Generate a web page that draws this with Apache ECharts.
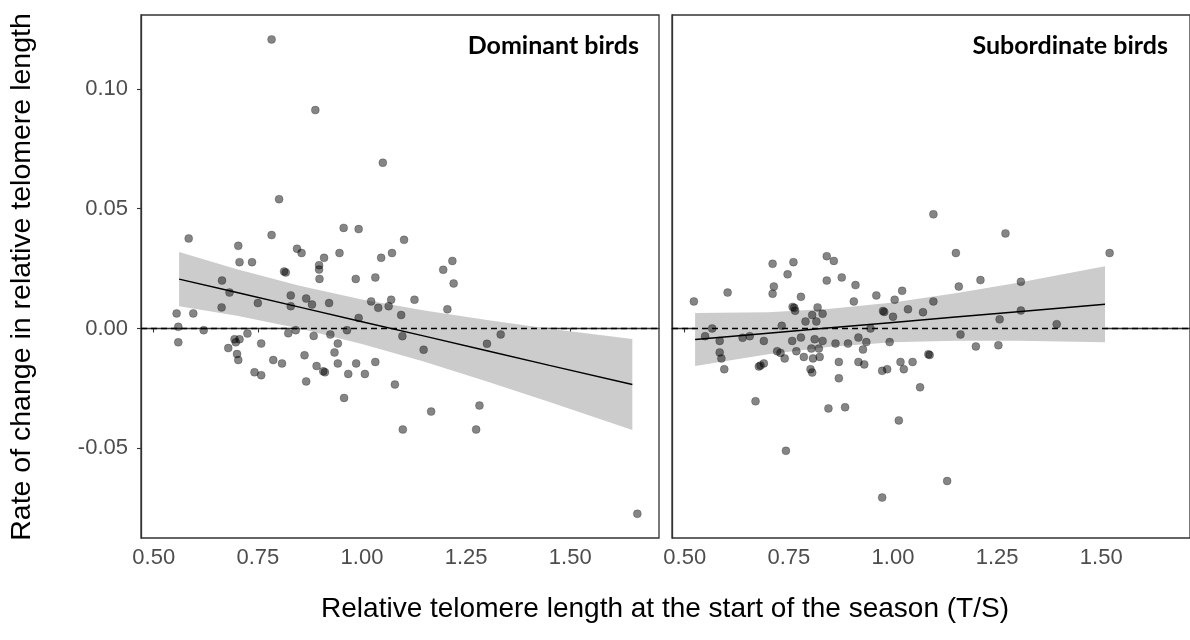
<!DOCTYPE html>
<html><head><meta charset="utf-8">
<script src="https://cdn.jsdelivr.net/npm/echarts@6/dist/echarts.min.js"></script>
<style>html,body{margin:0;padding:0;background:#fff}#c{width:1190px;height:640px}</style>
</head><body><div id="c"></div>
<script>
// ---- Data ----
const panelTitles = ['Dominant birds', 'Subordinate birds'];
const xTicks = [0.5, 0.75, 1.0, 1.25, 1.5];
const yTicks = [-0.05, 0.0, 0.05, 0.10];
const refLineY = 0;

const domX = [0.783,0.888,1.050,0.801,0.584,0.783,0.956,0.992,0.703,0.844,0.855,0.909,0.946,0.706,0.736,0.897,0.897,0.813,0.817,0.898,
  0.985,1.032,1.046,1.072,0.664,0.682,0.750,0.829,0.866,0.829,0.880,0.921,0.663,1.022,1.039,1.064,1.070,1.094,0.992,0.555,
  0.595,0.559,0.559,0.620,0.725,0.694,0.697,0.706,0.679,0.758,0.823,0.841,0.884,0.924,0.964,0.942,0.934,0.700,0.862,1.097,
  0.703,0.787,0.808,0.742,0.758,0.891,0.907,0.911,0.942,0.986,1.032,0.967,1.007,0.866,0.957,1.079,1.101,1.217,1.195,1.220,
  1.126,1.205,1.333,1.300,1.148,1.166,1.282,1.098,1.274,1.661];
const domY = [0.1207,0.0912,0.0692,0.0540,0.0376,0.0390,0.0420,0.0415,0.0345,0.0333,0.0315,0.0295,0.0315,0.0277,0.0277,0.0264,0.0246,0.0238,0.0234,0.0207,
  0.0207,0.0213,0.0295,0.0315,0.0200,0.0150,0.0106,0.0138,0.0125,0.0093,0.0100,0.0106,0.0088,0.0113,0.0086,0.0093,0.0120,0.0056,0.0044,0.0063,
  0.0063,0.0007,-0.0058,-0.0007,-0.0021,-0.0045,-0.0058,-0.0045,-0.0082,-0.0063,-0.0020,-0.0007,-0.0031,-0.0025,-0.0007,-0.0063,-0.0100,-0.0107,-0.0112,-0.0032,
  -0.0132,-0.0132,-0.0146,-0.0183,-0.0195,-0.0157,-0.0179,-0.0183,-0.0146,-0.0146,-0.0140,-0.0190,-0.0190,-0.0221,-0.0290,-0.0234,0.0370,0.0282,0.0245,0.0188,
  0.0120,0.0080,-0.0025,-0.0064,-0.0089,-0.0347,-0.0322,-0.0422,-0.0422,-0.0774];

const subX = [0.522,0.603,0.711,0.761,0.747,0.714,0.711,0.779,0.841,0.858,0.841,0.877,0.910,0.906,0.960,1.022,1.004,1.036,0.976,0.979,
  1.000,1.072,0.759,0.763,0.765,0.819,0.806,0.831,0.790,0.816,0.733,0.566,0.549,0.584,0.639,0.656,0.690,0.758,0.779,0.812,
  0.831,0.946,0.917,0.936,0.862,0.892,0.992,0.804,0.822,0.768,0.928,0.584,0.722,0.730,1.085,1.088,0.588,0.595,0.678,0.682,
  0.690,0.740,0.786,0.808,0.824,0.802,0.806,0.870,0.870,0.917,0.931,0.974,0.986,1.018,1.047,1.026,1.065,0.670,0.845,0.885,
  1.014,0.743,0.974,1.097,1.270,1.151,1.520,1.210,1.158,1.307,1.097,1.256,1.307,1.393,1.162,1.199,1.253,1.130];
const subY = [0.0113,0.0150,0.0270,0.0277,0.0226,0.0175,0.0145,0.0132,0.0302,0.0282,0.0200,0.0213,0.0181,0.0113,0.0138,0.0157,0.0120,0.0080,0.0073,0.0069,
  0.0049,0.0068,0.0090,0.0086,0.0074,0.0088,0.0056,0.0061,0.0029,0.0029,0.0011,0.0000,-0.0032,-0.0052,-0.0039,-0.0032,-0.0052,-0.0052,-0.0038,-0.0045,
  -0.0052,0.0000,-0.0038,-0.0057,-0.0063,-0.0063,-0.0057,-0.0084,-0.0084,-0.0095,-0.0088,-0.0100,-0.0095,-0.0102,-0.0108,-0.0111,-0.0125,-0.0170,-0.0159,-0.0155,
  -0.0146,-0.0125,-0.0119,-0.0125,-0.0119,-0.0170,-0.0184,-0.0140,-0.0208,-0.0140,-0.0150,-0.0177,-0.0170,-0.0140,-0.0140,-0.0170,-0.0246,-0.0304,-0.0334,-0.0329,
  -0.0384,-0.0511,-0.0706,0.0477,0.0397,0.0315,0.0315,0.0202,0.0175,0.0195,0.0113,0.0038,0.0075,0.0018,-0.0025,-0.0075,-0.0070,-0.0637];

// fitted line and confidence band
const domBandX = [0.561, 0.70, 0.85, 1.00, 1.15, 1.30, 1.45, 1.649];
const domFit   = [0.0206, 0.0150, 0.0089, 0.0028, -0.0032, -0.0093, -0.0154, -0.0234];
const domUpper = [0.0319, 0.0247, 0.0178, 0.0121, 0.0075, 0.0035, -0.0001, -0.0044];
const domLower = [0.0093, 0.0053, 0.0000, -0.0065, -0.0139, -0.0221, -0.0307, -0.0424];

const subBandX = [0.525, 0.70, 0.85, 1.00, 1.15, 1.30, 1.509];
const subFit   = [-0.0046, -0.0020, 0.0003, 0.0025, 0.0048, 0.0070, 0.0101];
const subUpper = [0.0065, 0.0068, 0.0082, 0.0108, 0.0147, 0.0191, 0.0260];
const subLower = [-0.0157, -0.0108, -0.0076, -0.0058, -0.0051, -0.0051, -0.0058];

// ---- Chart ----
const XMIN = 0.4695, XMAX = 1.713, YMIN = -0.0875, YMAX = 0.1309;
const FONT = '"Liberation Sans", Arial, sans-serif';
const BORDER = '#333333';

function zip(a, b) { return a.map((v, i) => [v, b[i]]); }

function xAxisDef(idx) {
  return {
    type: 'value', gridIndex: idx, min: XMIN, max: XMAX,
    axisLine: { show: true, lineStyle: { color: BORDER, width: 1.3 } },
    axisTick: { show: true, length: 4, customValues: xTicks, lineStyle: { color: BORDER, width: 1.1 } },
    axisLabel: { show: true, customValues: xTicks, margin: 9, color: '#4d4d4d', fontFamily: FONT, fontSize: 22,
      formatter: v => v.toFixed(2) },
    splitLine: { show: false }
  };
}
function yAxisDef(idx, labels) {
  return {
    type: 'value', gridIndex: idx, min: YMIN, max: YMAX,
    axisLine: { show: true, lineStyle: { color: BORDER, width: 1.3 } },
    axisTick: { show: labels, length: 4, customValues: yTicks, lineStyle: { color: BORDER, width: 1.1 } },
    axisLabel: { show: labels, customValues: yTicks, margin: 13, color: '#4d4d4d', fontFamily: FONT, fontSize: 22,
      formatter: v => v.toFixed(2) },
    splitLine: { show: false }
  };
}
function bandSeries(i, bx, up, lo) {
  return {
    type: 'custom', xAxisIndex: i, yAxisIndex: i, silent: true, z: 1,
    data: [[bx[0], up[0]]],
    renderItem: function (params, api) {
      const pts = [];
      for (let k = 0; k < bx.length; k++) pts.push(api.coord([bx[k], up[k]]));
      for (let k = bx.length - 1; k >= 0; k--) pts.push(api.coord([bx[k], lo[k]]));
      return { type: 'polygon', shape: { points: pts }, style: { fill: '#cccccc' } };
    }
  };
}
function pointSeries(i, xs, ys) {
  return {
    type: 'scatter', xAxisIndex: i, yAxisIndex: i, z: 3, symbolSize: 8,
    itemStyle: { color: 'rgba(0,0,0,0.6)', borderColor: 'rgba(0,0,0,0.35)', borderWidth: 0.8 },
    data: zip(xs, ys)
  };
}
function fitSeries(i, bx, fit) {
  return {
    type: 'line', xAxisIndex: i, yAxisIndex: i, z: 4, symbol: 'none', silent: true,
    lineStyle: { color: '#000', width: 1.4 },
    data: zip(bx, fit)
  };
}
function refSeries(i) {
  return {
    type: 'line', xAxisIndex: i, yAxisIndex: i, z: 5, symbol: 'none', silent: true,
    lineStyle: { color: '#000', width: 1.5, type: [6, 4] },
    data: [[XMIN, refLineY], [XMAX, refLineY]]
  };
}

const chart = echarts.init(document.getElementById('c'), null, { renderer: 'canvas' });
chart.setOption({
  animation: false,
  backgroundColor: '#ffffff',
  grid: [
    { left: 141, top: 15, width: 518, height: 523, show: true, borderColor: BORDER, borderWidth: 1.3, backgroundColor: 'transparent' },
    { left: 672, top: 15, width: 518, height: 523, show: true, borderColor: BORDER, borderWidth: 1.3, backgroundColor: 'transparent' }
  ],
  xAxis: [xAxisDef(0), xAxisDef(1)],
  yAxis: [yAxisDef(0, true), yAxisDef(1, false)],
  series: [
    bandSeries(0, domBandX, domUpper, domLower),
    pointSeries(0, domX, domY),
    fitSeries(0, domBandX, domFit),
    refSeries(0),
    bandSeries(1, subBandX, subUpper, subLower),
    pointSeries(1, subX, subY),
    fitSeries(1, subBandX, subFit),
    refSeries(1)
  ],
  graphic: [
    { type: 'text', x: 639, y: 46, z: 10, style: { text: panelTitles[0], font: 'bold 25px Lato, "Open Sans", sans-serif', fill: '#000', align: 'right', verticalAlign: 'middle' } },
    { type: 'text', x: 1168, y: 46, z: 10, style: { text: panelTitles[1], font: 'bold 25px Lato, "Open Sans", sans-serif', fill: '#000', align: 'right', verticalAlign: 'middle' } },
    { type: 'text', x: 665, y: 609, z: 10, style: { text: 'Relative telomere length at the start of the season (T/S)', font: '28px ' + FONT, fill: '#000', align: 'center', verticalAlign: 'middle' } },
    { type: 'text', x: 22, y: 277, rotation: Math.PI / 2, z: 10, style: { text: 'Rate of change in relative telomere length', font: '28.5px ' + FONT, fill: '#000', align: 'center', verticalAlign: 'middle' } }
  ]
});
</script>
</body></html>
